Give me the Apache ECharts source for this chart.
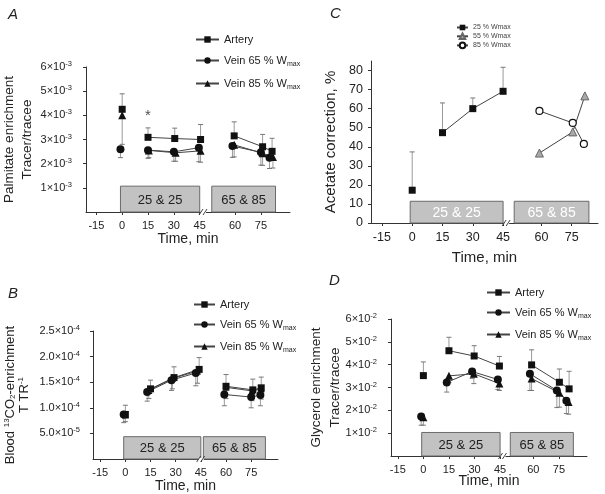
<!DOCTYPE html>
<html>
<head>
<meta charset="utf-8">
<script src="https://cdn.jsdelivr.net/npm/echarts@6/dist/echarts.min.js"></script>
<style>
  html, body { margin: 0; padding: 0; background: #fff; }
  #chart { width: 605px; height: 494px; }
</style>
</head>
<body>
<div id="chart"></div>
<script>
// ---------------------------------------------------------------------------
// data; time in min, errors = one-sided SE
// ---------------------------------------------------------------------------
var timeTicks = [-15, 0, 15, 30, 45, 60, 75];

// A: palmitate enrichment
var aTimeArtery = [0, 15, 30.5, 45.5, 59.5, 76, 81.5];
var aArtery     = [4.25e-3, 3.09e-3, 3.04e-3, 3.00e-3, 3.15e-3, 2.70e-3, 2.51e-3];
var aArterySE   = [0.64e-3, 0.39e-3, 0.43e-3, 0.62e-3, 0.58e-3, 0.51e-3, 0.54e-3];
var aTimeVein65 = [-1, 15, 30, 44.5, 58.5, 75, 80];
var aVein65     = [2.60e-3, 2.56e-3, 2.49e-3, 2.66e-3, 2.73e-3, 2.47e-3, 2.24e-3];
var aVein65SE   = [0.35e-3, 0.34e-3, 0.39e-3, 0.58e-3, 0.47e-3, 0.53e-3, 0.44e-3];
var aTimeVein85 = [0, 15.5, 31, 45.5, 59.5, 76, 82];
var aVein85     = [4.00e-3, 2.55e-3, 2.45e-3, 2.53e-3, 2.78e-3, 2.43e-3, 2.28e-3];
var aVein85SE   = [1.20e-3, 0.30e-3, 0.35e-3, 0.47e-3, 0.50e-3, 0.50e-3, 0.46e-3];
var aTicksY     = [1e-3, 2e-3, 3e-3, 4e-3, 5e-3, 6e-3];
var aStar       = [15, 3.97e-3];

// B: blood 13CO2 enrichment
var bTimeArtery = [0, 15, 29, 44, 60, 76, 81];
var bArtery     = [8.7e-5, 1.37e-4, 1.59e-4, 1.75e-4, 1.42e-4, 1.35e-4, 1.39e-4];
var bArterySE   = [1.8e-5, 1.7e-5, 2.1e-5, 2.3e-5, 2.3e-5, 2.1e-5, 2.1e-5];
var bTimeVein65 = [-1, 13, 27.5, 42, 59, 75, 80.5];
var bVein65     = [8.7e-5, 1.31e-4, 1.54e-4, 1.68e-4, 1.26e-4, 1.21e-4, 1.25e-4];
var bVein65SE   = [1.6e-5, 1.8e-5, 2.0e-5, 2.5e-5, 2.2e-5, 2.1e-5, 2.1e-5];
var bTimeVein85 = [0, 14, 28, 43, 60, 75.5, 81];
var bVein85     = [8.6e-5, 1.34e-4, 1.57e-4, 1.72e-4, 1.40e-4, 1.33e-4, 1.37e-4];
var bVein85SE   = [1.3e-5, 1.6e-5, 2.0e-5, 2.4e-5, 2.2e-5, 1.9e-5, 2.0e-5];
var bTicksY     = [5e-5, 1e-4, 1.5e-4, 2e-4, 2.5e-4];

// C: acetate correction
var cTime25 = [0, 15, 30, 45];
var c25     = [17.2, 47.4, 60.0, 69.1];
var c25SE   = [20.1, 15.6, 5.6, 12.6];
var cTime55 = [59, 75.5, 81.5];
var c55     = [36.7, 47.8, 66.7];
var cTime85 = [59, 75.5, 81];
var c85     = [58.8, 52.5, 41.5];
var cTicksY = [0, 10, 20, 30, 40, 50, 60, 70, 80];

// D: glycerol enrichment
var dTimeArtery = [0, 15, 29.8, 44.6, 59, 75.3, 81];
var dArtery     = [3.52e-2, 4.61e-2, 4.38e-2, 3.94e-2, 3.99e-2, 3.23e-2, 2.94e-2];
var dArterySE   = [0.60e-2, 0.59e-2, 0.45e-2, 0.42e-2, 0.66e-2, 0.58e-2, 0.77e-2];
var dTimeVein65 = [-1.3, 13.7, 28.6, 43.7, 58, 73.8, 79.4];
var dVein65     = [1.73e-2, 3.22e-2, 3.70e-2, 3.35e-2, 3.60e-2, 2.87e-2, 2.42e-2];
var dVein65SE   = [0.38e-2, 0.42e-2, 0.30e-2, 0.44e-2, 0.73e-2, 0.75e-2, 0.56e-2];
var dTimeVein85 = [0, 15, 29.6, 44.6, 59, 75.3, 80.7];
var dVein85     = [1.70e-2, 3.51e-2, 3.60e-2, 3.17e-2, 3.39e-2, 2.77e-2, 2.36e-2];
var dVein85SE   = [0.35e-2, 0.30e-2, 0.43e-2, 0.30e-2, 0.52e-2, 0.63e-2, 0.53e-2];
var dTicksY     = [1e-2, 2e-2, 3e-2, 4e-2, 5e-2, 6e-2];

// exercise boxes: [start, end] in min, height in axis units per panel
var boxText  = ['25 & 25', '65 & 85'];
var boxStart = [-1, 46.5];
var boxEnd   = [45, 83.5];
var boxTopA = 1.07e-3, boxTopB = 4.36e-5, boxTopC = 11.4, boxTopD = 1.03e-2;

var legendNames = ['Artery', 'Vein 65 % Wmax', 'Vein 85 % Wmax'];
var legendNamesC = ['25 % Wmax', '55 % Wmax', '85 % Wmax'];

// ---------------------------------------------------------------------------
var FONT = '"Liberation Sans", Arial, Helvetica, sans-serif';
var TXT = '#222';
var AX = '#333';

// time axis is broken between 45 and 60: shift the late points right by gap
function sx(t, gap) { return t > 46 ? t + gap : t; }

function lineData(times, vals, gap) {
  var out = [], prev = null;
  times.forEach(function (t, i) {
    var g = t <= 1 ? 0 : (t <= 46 ? 1 : 2);
    if (prev !== null && g !== prev) { out.push([sx(t, gap) - 0.5, '-']); }
    out.push([sx(t, gap), vals[i]]);
    prev = g;
  });
  return out;
}

function errData(times, vals, se, dir, gap) {
  return times.map(function (t, i) { return [sx(t, gap), vals[i], vals[i] + dir * se[i]]; });
}

function renderErr(params, api) {
  var p0 = api.coord([api.value(0), api.value(1)]);
  var p1 = api.coord([api.value(0), api.value(2)]);
  return {
    type: 'group', silent: true, children: [
      { type: 'line', shape: { x1: p0[0], y1: p0[1], x2: p1[0], y2: p1[1] }, style: { stroke: '#9a9a9a', lineWidth: 1 } },
      { type: 'line', shape: { x1: p1[0] - 2.5, y1: p1[1], x2: p1[0] + 2.5, y2: p1[1] }, style: { stroke: '#777', lineWidth: 1 } }
    ]
  };
}

function boxRenderer(textColor, fs) {
  return function (params, api) {
    var a = api.coord([api.value(0), 0]);
    var b = api.coord([api.value(1), api.value(2)]);
    return {
      type: 'group', silent: true, children: [
        { type: 'rect', shape: { x: a[0], y: b[1], width: b[0] - a[0], height: a[1] - b[1] },
          style: { fill: '#c2c2c2', stroke: '#6a6a6a', lineWidth: 1 } },
        { type: 'text', x: (a[0] + b[0]) / 2, y: (a[1] + b[1]) / 2 + 1,
          style: { text: boxText[params.dataIndex], fill: textColor, font: fs + 'px ' + FONT,
                   align: 'center', verticalAlign: 'middle' } }
      ]
    };
  };
}

function renderBreak(params, api) {
  var p = api.coord([api.value(0), api.value(1)]);
  return {
    type: 'group', silent: true, children: [
      { type: 'rect', shape: { x: p[0] - 3, y: p[1] - 1, width: 5, height: 2 }, style: { fill: '#fff' } },
      { type: 'line', shape: { x1: p[0] - 5, y1: p[1] + 3, x2: p[0] - 1, y2: p[1] - 3 }, style: { stroke: '#444', lineWidth: 1 } },
      { type: 'line', shape: { x1: p[0] - 1, y1: p[1] + 3, x2: p[0] + 3, y2: p[1] - 3 }, style: { stroke: '#444', lineWidth: 1 } }
    ]
  };
}

function boxData(top, gap) {
  return boxStart.map(function (s, i) { return [sx(s, gap), sx(boxEnd[i], gap), top]; });
}

function sciFmt(dec) {
  return function (v) {
    var e = Math.floor(Math.log10(v) + 1e-9);
    var m = v / Math.pow(10, e);
    return '{m|' + m.toFixed(dec) + '\u00d710}{e|' + e + '}';
  };
}

var sciRich = {
  m: { fontSize: 11, lineHeight: 14, color: TXT, fontFamily: FONT },
  e: { fontSize: 7.5, lineHeight: 9, verticalAlign: 'top', color: TXT, fontFamily: FONT }
};

function xAxisFor(i, min, max, gap, fs, nameFs, nameGap) {
  var vals = timeTicks.map(function (t) { return sx(t, gap); });
  return {
    type: 'value', gridIndex: i, min: min, max: max,
    axisLine: { onZero: false, lineStyle: { color: AX, width: 1 } },
    axisTick: { show: true, length: 3, customValues: vals, lineStyle: { color: AX } },
    axisLabel: {
      customValues: vals, fontSize: fs, color: TXT, fontFamily: FONT, margin: 8,
      formatter: function (v) { return String(v > 46 ? Math.round(v - gap) : Math.round(v)); }
    },
    splitLine: { show: false },
    name: 'Time, min', nameLocation: 'middle', nameGap: nameGap, nameMoveOverlap: false,
    nameTextStyle: { fontSize: nameFs, color: TXT, fontFamily: FONT }
  };
}

function yAxisFor(i, max, ticks, fmt, fs, rich, name, nameGap, nameFs, nameLh, nameRich, margin) {
  return {
    type: 'value', gridIndex: i, min: 0, max: max,
    axisLine: { show: true, onZero: false, lineStyle: { color: AX, width: 1 } },
    axisTick: { show: true, length: 3, customValues: ticks, lineStyle: { color: AX } },
    axisLabel: { customValues: ticks, formatter: fmt, fontSize: fs, color: TXT, fontFamily: FONT, margin: margin, rich: rich },
    splitLine: { show: false },
    name: name, nameLocation: 'middle', nameRotate: 90, nameGap: nameGap, nameMoveOverlap: false,
    nameTextStyle: { fontSize: nameFs, color: TXT, fontFamily: FONT, lineHeight: nameLh, rich: nameRich }
  };
}

function lineSeries(name, idx, times, vals, gap, sym, size, itemStyle) {
  return {
    name: name, type: 'line', xAxisIndex: idx, yAxisIndex: idx, z: 4,
    data: lineData(times, vals, gap), connectNulls: false,
    symbol: sym, symbolSize: size, showAllSymbol: true,
    lineStyle: { color: '#444', width: 1 },
    itemStyle: itemStyle, emphasis: { disabled: true }
  };
}

function errSeries(idx, times, vals, se, dir, gap) {
  return {
    type: 'custom', xAxisIndex: idx, yAxisIndex: idx, z: 3, silent: true,
    renderItem: renderErr, encode: { x: 0, y: [1, 2] },
    data: errData(times, vals, se, dir, gap)
  };
}

function boxSeries(idx, top, gap, color, fs) {
  return {
    type: 'custom', xAxisIndex: idx, yAxisIndex: idx, z: 2, silent: true,
    renderItem: boxRenderer(color, fs), encode: { x: [0, 1], y: 2 },
    data: boxData(top, gap)
  };
}

function breakSeries(idx, x) {
  return {
    type: 'custom', xAxisIndex: idx, yAxisIndex: idx, z: 5, silent: true,
    renderItem: renderBreak, encode: { x: 0, y: 1 }, data: [[x, 0]]
  };
}

var BLACK = { color: '#111', borderColor: '#111', borderWidth: 0 };

function legendFmt(n) {
  var m = n.match(/^(.*W)(max)$/);
  return m ? '{t|' + m[1] + '}{s|' + m[2] + '}' : '{t|' + n + '}';
}
var legendRich = {
  t: { fontSize: 11, lineHeight: 15, color: TXT, fontFamily: FONT },
  s: { fontSize: 7, lineHeight: 6, verticalAlign: 'bottom', color: TXT, fontFamily: FONT }
};

// panel gaps (extra minutes inserted at the axis break)
var gA = 5.5, gB = 0, gC = 4, gD = 4.5;

var series = [];
// boxes
series.push(boxSeries(0, boxTopA, gA, TXT, 13));
series.push(boxSeries(1, boxTopB, gB, TXT, 13));
series.push(boxSeries(2, boxTopC, gC, '#fff', 14));
series.push(boxSeries(3, boxTopD, gD, TXT, 13));
// breaks
series.push(breakSeries(0, 47.5));
series.push(breakSeries(1, 45.5));
series.push(breakSeries(2, 47));
series.push(breakSeries(3, 47));

// A
series.push(errSeries(0, aTimeArtery, aArtery, aArterySE, 1, gA));
series.push(errSeries(0, aTimeVein65, aVein65, aVein65SE, -1, gA));
series.push(errSeries(0, aTimeVein85, aVein85, aVein85SE, -1, gA));
series.push(lineSeries(legendNames[0], 0, aTimeArtery, aArtery, gA, 'rect', 7, BLACK));
series.push(lineSeries(legendNames[1], 0, aTimeVein65, aVein65, gA, 'circle', 8, BLACK));
series.push(lineSeries(legendNames[2], 0, aTimeVein85, aVein85, gA, 'triangle', 8, BLACK));
series.push({
  type: 'scatter', xAxisIndex: 0, yAxisIndex: 0, silent: true, z: 6,
  data: [aStar], symbol: 'circle', symbolSize: 1, itemStyle: { color: 'rgba(0,0,0,0)' },
  label: { show: true, position: 'inside', formatter: '*', fontSize: 15, color: TXT, fontFamily: FONT }
});

// B
series.push(errSeries(1, bTimeArtery, bArtery, bArterySE, 1, gB));
series.push(errSeries(1, bTimeVein65, bVein65, bVein65SE, -1, gB));
series.push(errSeries(1, bTimeVein85, bVein85, bVein85SE, -1, gB));
series.push(lineSeries(legendNames[2], 1, bTimeVein85, bVein85, gB, 'triangle', 7, BLACK));
series.push(lineSeries(legendNames[1], 1, bTimeVein65, bVein65, gB, 'circle', 8, BLACK));
series.push(lineSeries(legendNames[0], 1, bTimeArtery, bArtery, gB, 'rect', 7, BLACK));

// C
series.push(errSeries(2, cTime25, c25, c25SE, 1, gC));
series.push(lineSeries(legendNamesC[0], 2, cTime25, c25, gC, 'rect', 7, BLACK));
series.push(lineSeries(legendNamesC[1], 2, cTime55, c55, gC, 'triangle', 8,
  { color: '#a9a9a9', borderColor: '#666', borderWidth: 1 }));
series.push(lineSeries(legendNamesC[2], 2, cTime85, c85, gC, 'circle', 7,
  { color: '#fff', borderColor: '#111', borderWidth: 1.2 }));

// D
series.push(errSeries(3, dTimeArtery, dArtery, dArterySE, 1, gD));
series.push(errSeries(3, dTimeVein65, dVein65, dVein65SE, -1, gD));
series.push(errSeries(3, dTimeVein85, dVein85, dVein85SE, -1, gD));
series.push(lineSeries(legendNames[0], 3, dTimeArtery, dArtery, gD, 'rect', 7, BLACK));
series.push(lineSeries(legendNames[2], 3, dTimeVein85, dVein85, gD, 'triangle', 8, BLACK));
series.push(lineSeries(legendNames[1], 3, dTimeVein65, dVein65, gD, 'circle', 8, BLACK));

var titleStyle = { fontSize: 15, fontStyle: 'italic', fontWeight: 'normal', color: TXT, fontFamily: FONT };

var option = {
  animation: false,
  backgroundColor: '#fff',
  textStyle: { fontFamily: FONT },
  title: [
    { text: 'A', left: 3, top: 2, textStyle: titleStyle },
    { text: 'C', left: 325, top: 1, textStyle: titleStyle },
    { text: 'B', left: 3, top: 281, textStyle: titleStyle },
    { text: 'D', left: 324, top: 268, textStyle: titleStyle }
  ],
  legend: [
    { orient: 'vertical', left: 190, top: 29, itemWidth: 23, itemHeight: 8, itemGap: 10,
      data: legendNames, formatter: legendFmt, textStyle: { rich: legendRich }, selectedMode: false },
    { orient: 'vertical', left: 188, top: 294, itemWidth: 21, itemHeight: 8, itemGap: 9,
      data: legendNames, formatter: legendFmt, textStyle: { rich: legendRich }, selectedMode: false },
    { orient: 'vertical', left: 451, top: 19, itemWidth: 11, itemHeight: 7, itemGap: 1.5,
      data: legendNamesC, textStyle: { fontSize: 7, color: '#444', fontFamily: FONT }, selectedMode: false },
    { orient: 'vertical', left: 481, top: 282, itemWidth: 23, itemHeight: 8, itemGap: 9,
      data: legendNames, formatter: legendFmt, textStyle: { rich: legendRich }, selectedMode: false }
  ],
  grid: [
    { left: 82, top: 67, width: 208, height: 145 },
    { left: 93, top: 331, width: 185, height: 129 },
    { left: 371, top: 61, width: 227, height: 162 },
    { left: 391, top: 319, width: 196, height: 137 }
  ],
  xAxis: [
    xAxisFor(0, -21, 97.4, gA, 11, 14, 20),
    xAxisFor(1, -19.3, 91, gB, 11, 14, 20),
    xAxisFor(2, -20.4, 92, gC, 12.5, 15, 27),
    xAxisFor(3, -19, 96, gD, 11, 14, 18)
  ],
  yAxis: [
    yAxisFor(0, 6e-3, aTicksY, sciFmt(0), 11, sciRich,
      'Palmitate enrichment\nTracer/tracee', 50, 13.5, 17.5, null, 14),
    yAxisFor(1, 2.5e-4, bTicksY, sciFmt(1), 11, sciRich,
      '{t|Blood }{sp|13}{t|CO}{sb|2}{t|-enrichment}\n{t|T TR}{sp|-1}', 62, 13, 14, {
        t: { fontSize: 13, lineHeight: 14, color: TXT, fontFamily: FONT },
        sp: { fontSize: 8, lineHeight: 8, verticalAlign: 'top', color: TXT, fontFamily: FONT },
        sb: { fontSize: 8, lineHeight: 6, verticalAlign: 'bottom', color: TXT, fontFamily: FONT }
      }, 13),
    yAxisFor(2, 85, cTicksY, function (v) { return String(v); }, 12.5, null,
      'Acetate correction, %', 31, 15, 19, null, 8),
    yAxisFor(3, 6e-2, dTicksY, sciFmt(0), 11, sciRich,
      'Glycerol enrichment\nTracer/tracee', 46, 13.5, 19, null, 14)
  ],
  series: series
};

var chart = echarts.init(document.getElementById('chart'), null, { renderer: 'canvas' });
chart.setOption(option);
</script>
</body>
</html>
